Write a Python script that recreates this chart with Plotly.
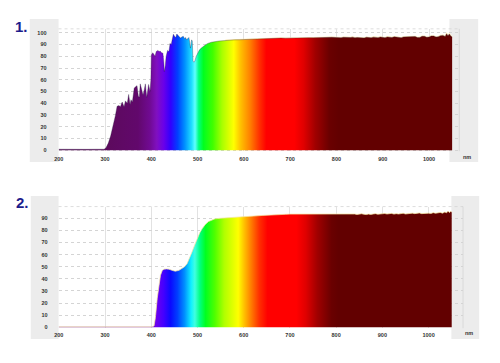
import plotly.graph_objects as go

W, H = 500, 363

# ---------------- data ----------------
# Panel 1 : transmission spectrum (nm, %)
wl1 = [200, 220, 240, 260, 280, 298, 302, 307, 312, 317, 322, 326, 330, 333, 337, 341, 344, 348,
       351, 354, 356, 359, 363, 366, 369, 372, 374, 376, 379, 382, 385, 387, 390, 392, 394, 397,
       399, 400, 403, 405, 408, 410.5, 414, 417, 419, 422, 425, 427, 428, 430, 432, 435, 438,
       440.5, 443, 445, 447.6, 450, 453, 455, 458, 461, 463, 466, 469, 472, 474, 476, 479, 481,
       483, 484.5, 486, 487, 488.5, 490, 492, 494, 497, 500, 504, 508, 512, 516, 522, 530, 546,
       560, 570, 580, 590, 600, 610, 620, 630, 640, 650, 660, 670, 680, 690, 700, 710, 720, 730,
       740, 750, 760, 770, 780, 790, 800, 805, 810, 815, 820, 825, 830, 835, 840, 845, 850, 855,
       860, 865, 870, 875, 880, 885, 890, 895, 900, 905, 910, 915, 920, 925, 930, 935, 940, 945,
       950, 955, 960, 965, 970, 975, 980, 985, 990, 995, 1000, 1005, 1010, 1015, 1020, 1025,
       1030, 1035, 1038, 1041, 1044, 1047, 1050]
tr1 = [0.8, 0.6, 0.9, 0.7, 0.8, 0.8, 2, 6, 12, 20, 29, 37.5, 38, 37, 41, 37, 42, 40,
       47.5, 39, 43, 41, 53, 54, 55, 46, 45, 56.5, 50, 47, 52, 56.5, 45, 50, 56, 50,
       60, 81, 83, 82, 80, 84, 85, 84, 84.5, 83, 82.7, 75, 67, 72, 80, 85, 84,
       91, 90, 94, 98.8, 97, 96, 99, 98, 97, 95.5, 96.5, 97, 95, 96, 94, 95, 96,
       92, 87, 91, 94, 93, 76, 75, 76, 80, 83, 85.5, 87, 88.5, 89.5, 91, 92, 93,
       93.6, 93.8, 94.0, 94.1, 94.3, 94.4, 94.6, 94.8, 94.9, 95.1, 95.2, 95.3, 95.5, 95.4,
       95.6, 95.5, 95.7, 95.6, 95.8, 95.7, 95.9, 95.8, 96.0, 96.2, 96.0, 95.7, 95.8, 96.2,
       96.1, 95.8, 96.0, 96.3, 95.7, 96.0, 95.9, 95.5, 95.6, 96.2, 96.1, 95.7, 96.3, 96.0,
       95.9, 96.4, 96.2, 95.8, 96.5, 96.1, 96.0, 96.6, 96.4, 95.9, 95.8, 96.5, 96.6, 96.1,
       96.2, 96.8, 96.8, 96.0, 96.1, 97.0, 97.0, 96.2, 96.4, 97.3, 97.3, 96.4, 96.6, 97.6,
       97.8, 96.9, 99.2, 97.5, 99.0, 97.2, 96.5]

# Panel 2 : transmission spectrum (nm, %)
wl2 = [200, 230, 260, 290, 320, 349, 360, 375, 388, 400, 406, 409, 413, 416, 420, 424, 428, 433,
       438, 445, 452, 460, 467, 472, 477.7, 483, 488, 494, 499, 505, 510, 517, 524, 531, 538,
       550, 567, 590, 610, 620, 630, 640, 650, 660, 670, 680, 690, 700, 710, 720, 730, 740,
       750, 760, 770, 780, 790, 800, 805, 810, 815, 820, 825, 830, 835, 840, 845, 850, 855,
       860, 865, 870, 875, 880, 885, 890, 895, 900, 905, 910, 915, 920, 925, 930, 935, 940,
       945, 950, 955, 960, 965, 970, 975, 980, 985, 990, 995, 1000, 1005, 1010, 1015, 1020,
       1025, 1030, 1035, 1039, 1042, 1045, 1048, 1050]
tr2 = [0.3, 0.3, 0.3, 0.3, 0.3, 0.6, 0.9, 0.7, 0.6, 0.3, 1, 8, 24, 34, 43, 47, 48, 48.2,
       48, 47, 46.3, 47, 48.5, 50, 52.6, 57, 62, 68, 73, 78, 81.4, 85, 87.4, 88.8, 89.6,
       90.1, 90.4, 91.0, 91.5, 91.8, 92.1, 92.4, 92.7, 92.9, 93.1, 93.2, 93.3, 93.5, 93.5,
       93.7, 93.6, 93.8, 93.7, 93.8, 93.6, 93.9, 93.7, 93.8, 93.5, 93.9, 93.6, 93.4, 93.8,
       93.7, 93.3, 93.6, 93.2, 93.5, 93.8, 93.4, 93.1, 93.5, 93.2, 93.6, 93.9, 93.4, 93.7,
       93.5, 94.0, 93.6, 93.8, 94.1, 93.5, 93.9, 93.6, 93.7, 94.2, 93.6, 94.0, 93.8, 94.3,
       93.9, 94.1, 94.5, 93.9, 94.2, 94.6, 94.3, 94.0, 94.7, 94.2, 94.5, 94.9, 94.3, 95.2,
       94.6, 96.0, 94.8, 95.8, 95.0, 94.6]

# spectrum colours along wavelength (panel 1)
cs1_wl = [200, 300, 370, 395, 410, 425, 440, 455, 470, 485, 492, 500, 510, 530, 550, 575,
          590, 610, 630, 645, 705, 725, 750, 780, 800, 1050]
cs1_col = ['#5a0f5a', '#5c0a5c', '#62086c', '#700a92', '#8010c0', '#6a00ea', '#3000ff',
           '#0040ff', '#0090ff', '#20e0ff', '#60ffff', '#00ff80', '#00ff20', '#40ff00',
           '#a8ff00', '#ffff00', '#ffc000', '#ff8000', '#ff3000', '#ff0000', '#ff0000',
           '#e00000', '#a00000', '#6a0000', '#620000', '#620000']
# spectrum colours along wavelength (panel 2)
cs2_wl = [200, 400, 410, 425, 440, 455, 470, 484, 492, 503, 515, 535, 555, 585,
          598, 612, 630, 648, 710, 730, 755, 785, 800, 1050]
cs2_col = ['#6a10b0', '#7010d0', '#6a00f0', '#4400ff', '#0a0aff', '#0040ff', '#0090ff',
           '#10f0ff', '#40ffe0', '#00ff80', '#00ff20', '#50ff00', '#b0ff00', '#ffff00',
           '#ffc000', '#ff8000', '#ff3000', '#ff0000', '#ff0000', '#e00000', '#a00000',
           '#6a0000', '#620000', '#620000']

y1_ticks = [0, 10, 20, 30, 40, 50, 60, 70, 80, 90, 100]
y2_ticks = [0, 10, 20, 30, 40, 50, 60, 70, 80, 90]
x_ticks = [200, 300, 400, 500, 600, 700, 800, 900, 1000]
x_unit = 'nm'

# ---------------- figure ----------------
def make_scale(ws, cs):
    lo, hi = ws[0], ws[-1]
    return [[(w - lo) / (hi - lo), c] for w, c in zip(ws, cs)], lo, hi

scale1, lo1, hi1 = make_scale(cs1_wl, cs1_col)
scale2, lo2, hi2 = make_scale(cs2_wl, cs2_col)

def px(x):
    return x / W

def py(y):
    return 1 - y / H

fig = go.Figure()

# panel 1: light fringe under the top edge (red part)
sub = [(w, t) for w, t in zip(wl1, tr1) if w >= 560]
fig.add_trace(go.Scatter(x=[a for a, b in sub], y=[b for a, b in sub], mode='lines',
                         line=dict(color='rgba(255,236,180,0.95)', width=1.6),
                         xaxis='x', yaxis='y', hoverinfo='skip', showlegend=False))
fig.add_trace(go.Scatter(x=wl1, y=tr1, mode='lines', fill='tozeroy',
                         fillgradient=dict(type='horizontal', colorscale=scale1,
                                           start=lo1, stop=hi1),
                         line=dict(color='rgba(45,35,70,0.55)', width=0.6),
                         xaxis='x', yaxis='y', showlegend=False))
fig.add_trace(go.Scatter(x=wl2, y=tr2, mode='lines', fill='tozeroy',
                         fillgradient=dict(type='horizontal', colorscale=scale2,
                                           start=lo2, stop=hi2),
                         line=dict(color='rgba(245,228,160,0.9)', width=0.8),
                         xaxis='x2', yaxis='y2', showlegend=False))

tickfont = dict(family='Liberation Sans', size=5.5, color='#333333', weight='bold')
grid_col = '#e2e2e2'
hgrid_col = '#d4d4d4'

p1 = dict(l=55, r=459, t=29, b=152)
p2 = dict(l=55, r=462.7, t=207.7, b=330)

fig.update_layout(
    width=W, height=H, margin=dict(l=0, r=0, t=0, b=0),
    paper_bgcolor='white', plot_bgcolor='rgba(0,0,0,0)',
    xaxis=dict(domain=[px(p1['l']), px(p1['r'])], anchor='y',
               range=[199.5, 199.5 + (p1['r'] - p1['l']) / 0.4665],
               tickvals=x_ticks, ticks='', ticklabelstandoff=3, tickfont=tickfont,
               showgrid=True, gridcolor=grid_col, gridwidth=0.7, zeroline=False,
               showline=False),
    yaxis=dict(domain=[py(p1['b']), py(p1['t'])], anchor='x',
               range=[-0.85, 103.4], tickvals=y1_ticks, ticks='', ticklabelstandoff=11,
               tickfont=tickfont, showgrid=True, gridcolor=hgrid_col, griddash='dot',
               gridwidth=0.7, zeroline=False, showline=False),
    xaxis2=dict(domain=[px(p2['l']), px(p2['r'])], anchor='y2',
                range=[199.5, 199.5 + (p2['r'] - p2['l']) / 0.466],
                tickvals=x_ticks, ticks='', ticklabelstandoff=2, tickfont=tickfont,
                showgrid=True, gridcolor=grid_col, gridwidth=0.7, zeroline=False,
                showline=False),
    yaxis2=dict(domain=[py(p2['b']), py(p2['t'])], anchor='x2',
                range=[-0.82, 99.75], tickvals=y2_ticks, ticks='', ticklabelstandoff=10,
                tickfont=tickfont, showgrid=True, gridcolor=hgrid_col, griddash='dot',
                gridwidth=0.7, zeroline=False, showline=False),
)

band = '#ececec'
shapes = []
for (x0, x1, y0, y1) in [(26, 55, 19, 163), (449, 478, 19, 163),
                         (27, 55, 197, 341), (451, 479, 197, 341)]:
    shapes.append(dict(type='rect', xref='paper', yref='paper', layer='below',
                       x0=px(x0), x1=px(x1), y0=py(y1), y1=py(y0),
                       fillcolor=band, line=dict(width=0)))
for p in (p1, p2):
    shapes.append(dict(type='line', xref='paper', yref='paper', layer='below',
                       x0=px(p['l']), x1=px(p['r']), y0=py(p['t']), y1=py(p['t']),
                       line=dict(color=hgrid_col, width=0.8, dash='dot')))
    shapes.append(dict(type='line', xref='paper', yref='paper', layer='below',
                       x0=px(p['r']), x1=px(p['r']), y0=py(p['b']), y1=py(p['t']),
                       line=dict(color='#d4d4d4', width=0.8)))
fig.update_layout(shapes=shapes)

lab_font = dict(family='Liberation Sans', size=15, color='#1c1c8c', weight='bold')
fig.add_annotation(x=px(17.5), y=py(27), xref='paper', yref='paper', text='1.',
                   showarrow=False, font=lab_font, xanchor='center', yanchor='middle')
fig.add_annotation(x=px(19), y=py(203.5), xref='paper', yref='paper', text='2.',
                   showarrow=False, font=lab_font, xanchor='center', yanchor='middle')
fig.add_annotation(x=px(467), y=py(158), xref='paper', yref='paper', text=x_unit,
                   showarrow=False, font=tickfont, xanchor='center', yanchor='middle')
fig.add_annotation(x=px(469), y=py(335), xref='paper', yref='paper', text=x_unit,
                   showarrow=False, font=tickfont, xanchor='center', yanchor='middle')

fig.write_html('out.html')
